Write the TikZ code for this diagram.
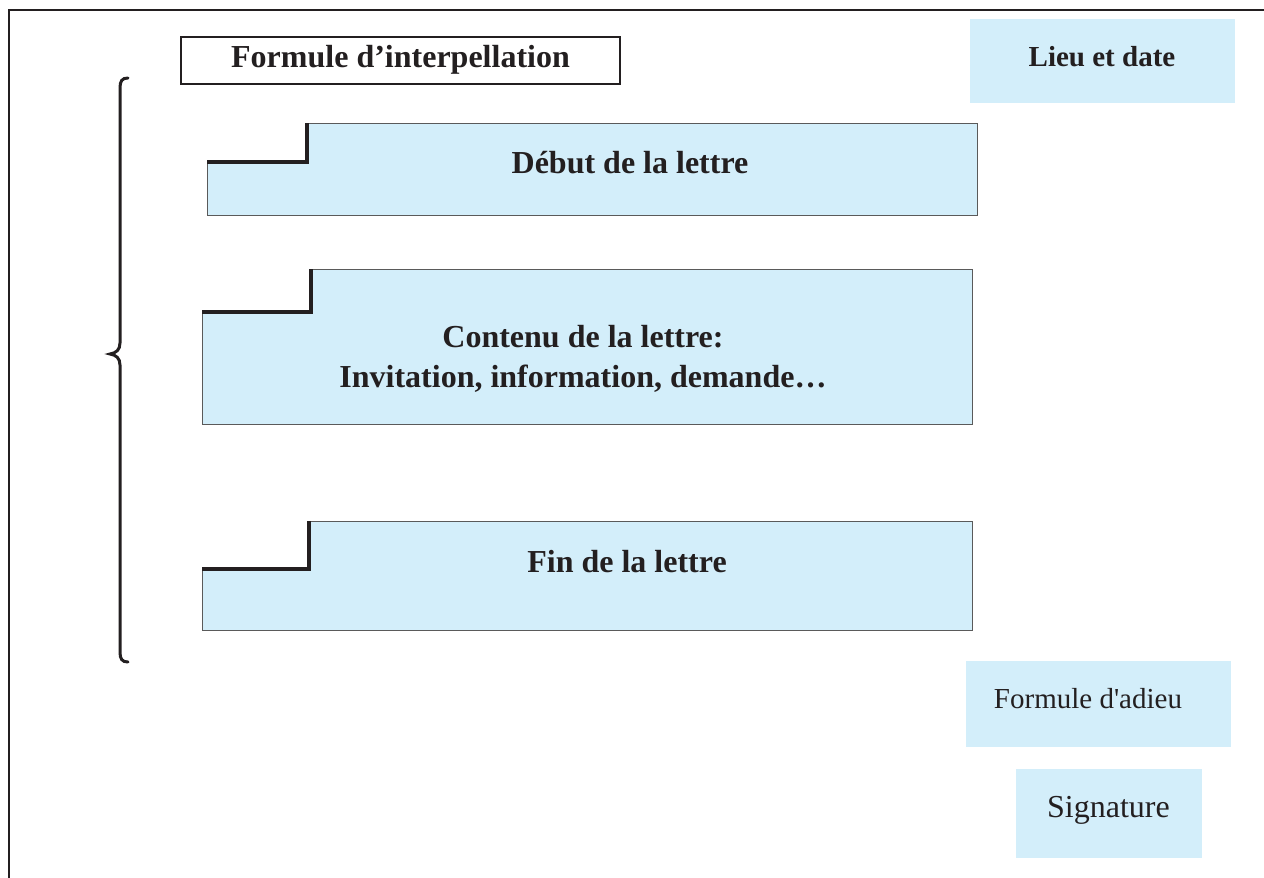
\documentclass[tikz,border=0pt]{standalone}
\usepackage{fontspec}
\setmainfont{Liberation Serif}
\definecolor{boxblue}{RGB}{211,238,250}
\definecolor{ink}{RGB}{35,31,32}
\definecolor{edge}{RGB}{90,90,90}
\begin{document}
\begin{tikzpicture}[x=1pt,y=-1pt,
  bigbold/.style={font=\fontsize{32}{38}\selectfont\bfseries, text=ink, inner sep=0pt, align=center},
  plain/.style={font=\fontsize{29}{34}\selectfont, text=ink, inner sep=0pt},
  stepfill/.style={fill=boxblue, draw=edge, line width=1pt},
  notch/.style={draw=ink, line width=4pt, line cap=butt, line join=miter},
  bluebox/.style={fill=boxblue, draw=none}]
\useasboundingbox (0,0) rectangle (1264,878);
% outer frame
\draw[ink, line width=2pt] (9,878) -- (9,10) -- (1264,10);
% interpellation box
\draw[ink, line width=2pt, fill=white] (181,37) rectangle (620,84);
\node[bigbold] (interp) at (400.5,60) {Formule d’interpellation};
% lieu et date
\fill[bluebox] (970,19) rectangle (1235,103);
\node[bigbold, font=\fontsize{29}{34}\selectfont\bfseries] (lieu) at (1102,57) {Lieu et date};
% brace
\draw[ink, line width=3pt, line cap=round]
  (128,78) .. controls (122,78) and (120,81) .. (120,88)
  -- (120,343) .. controls (120,350) and (116,353) .. (110,354)
  .. controls (116,355) and (120,358) .. (120,365)
  -- (120,652) .. controls (120,659) and (122,662) .. (128,662);
% Debut
\path[stepfill] (307,123) -- (977,123) -- (977,215) -- (207,215) -- (207,162) -- (307,162) -- cycle;
\draw[notch] (207,162) -- (307,162) -- (307,123);
\node[bigbold] (debut) at (630,163) {Début de la lettre};
% Contenu
\path[stepfill] (311,269) -- (972,269) -- (972,424) -- (202,424) -- (202,312) -- (311,312) -- cycle;
\draw[notch] (202,312) -- (311,312) -- (311,269);
\node[bigbold] (contenu) at (583,359) {Contenu de la lettre:\\[2pt]Invitation, information, demande…};
% Fin
\path[stepfill] (309,521) -- (972,521) -- (972,630) -- (202,630) -- (202,569) -- (309,569) -- cycle;
\draw[notch] (202,569) -- (309,569) -- (309,521);
\node[bigbold] (fin) at (627,562) {Fin de la lettre};
% adieu
\fill[bluebox] (966,661) rectangle (1231,747);
\node[plain] (adieu) at (1088,699) {Formule d\textquotesingle adieu};
% signature
\fill[bluebox] (1016,769) rectangle (1202,858);
\node[plain, font=\fontsize{32}{38}\selectfont] (sig) at (1108.5,810) {Signature};
\end{tikzpicture}
\end{document}
